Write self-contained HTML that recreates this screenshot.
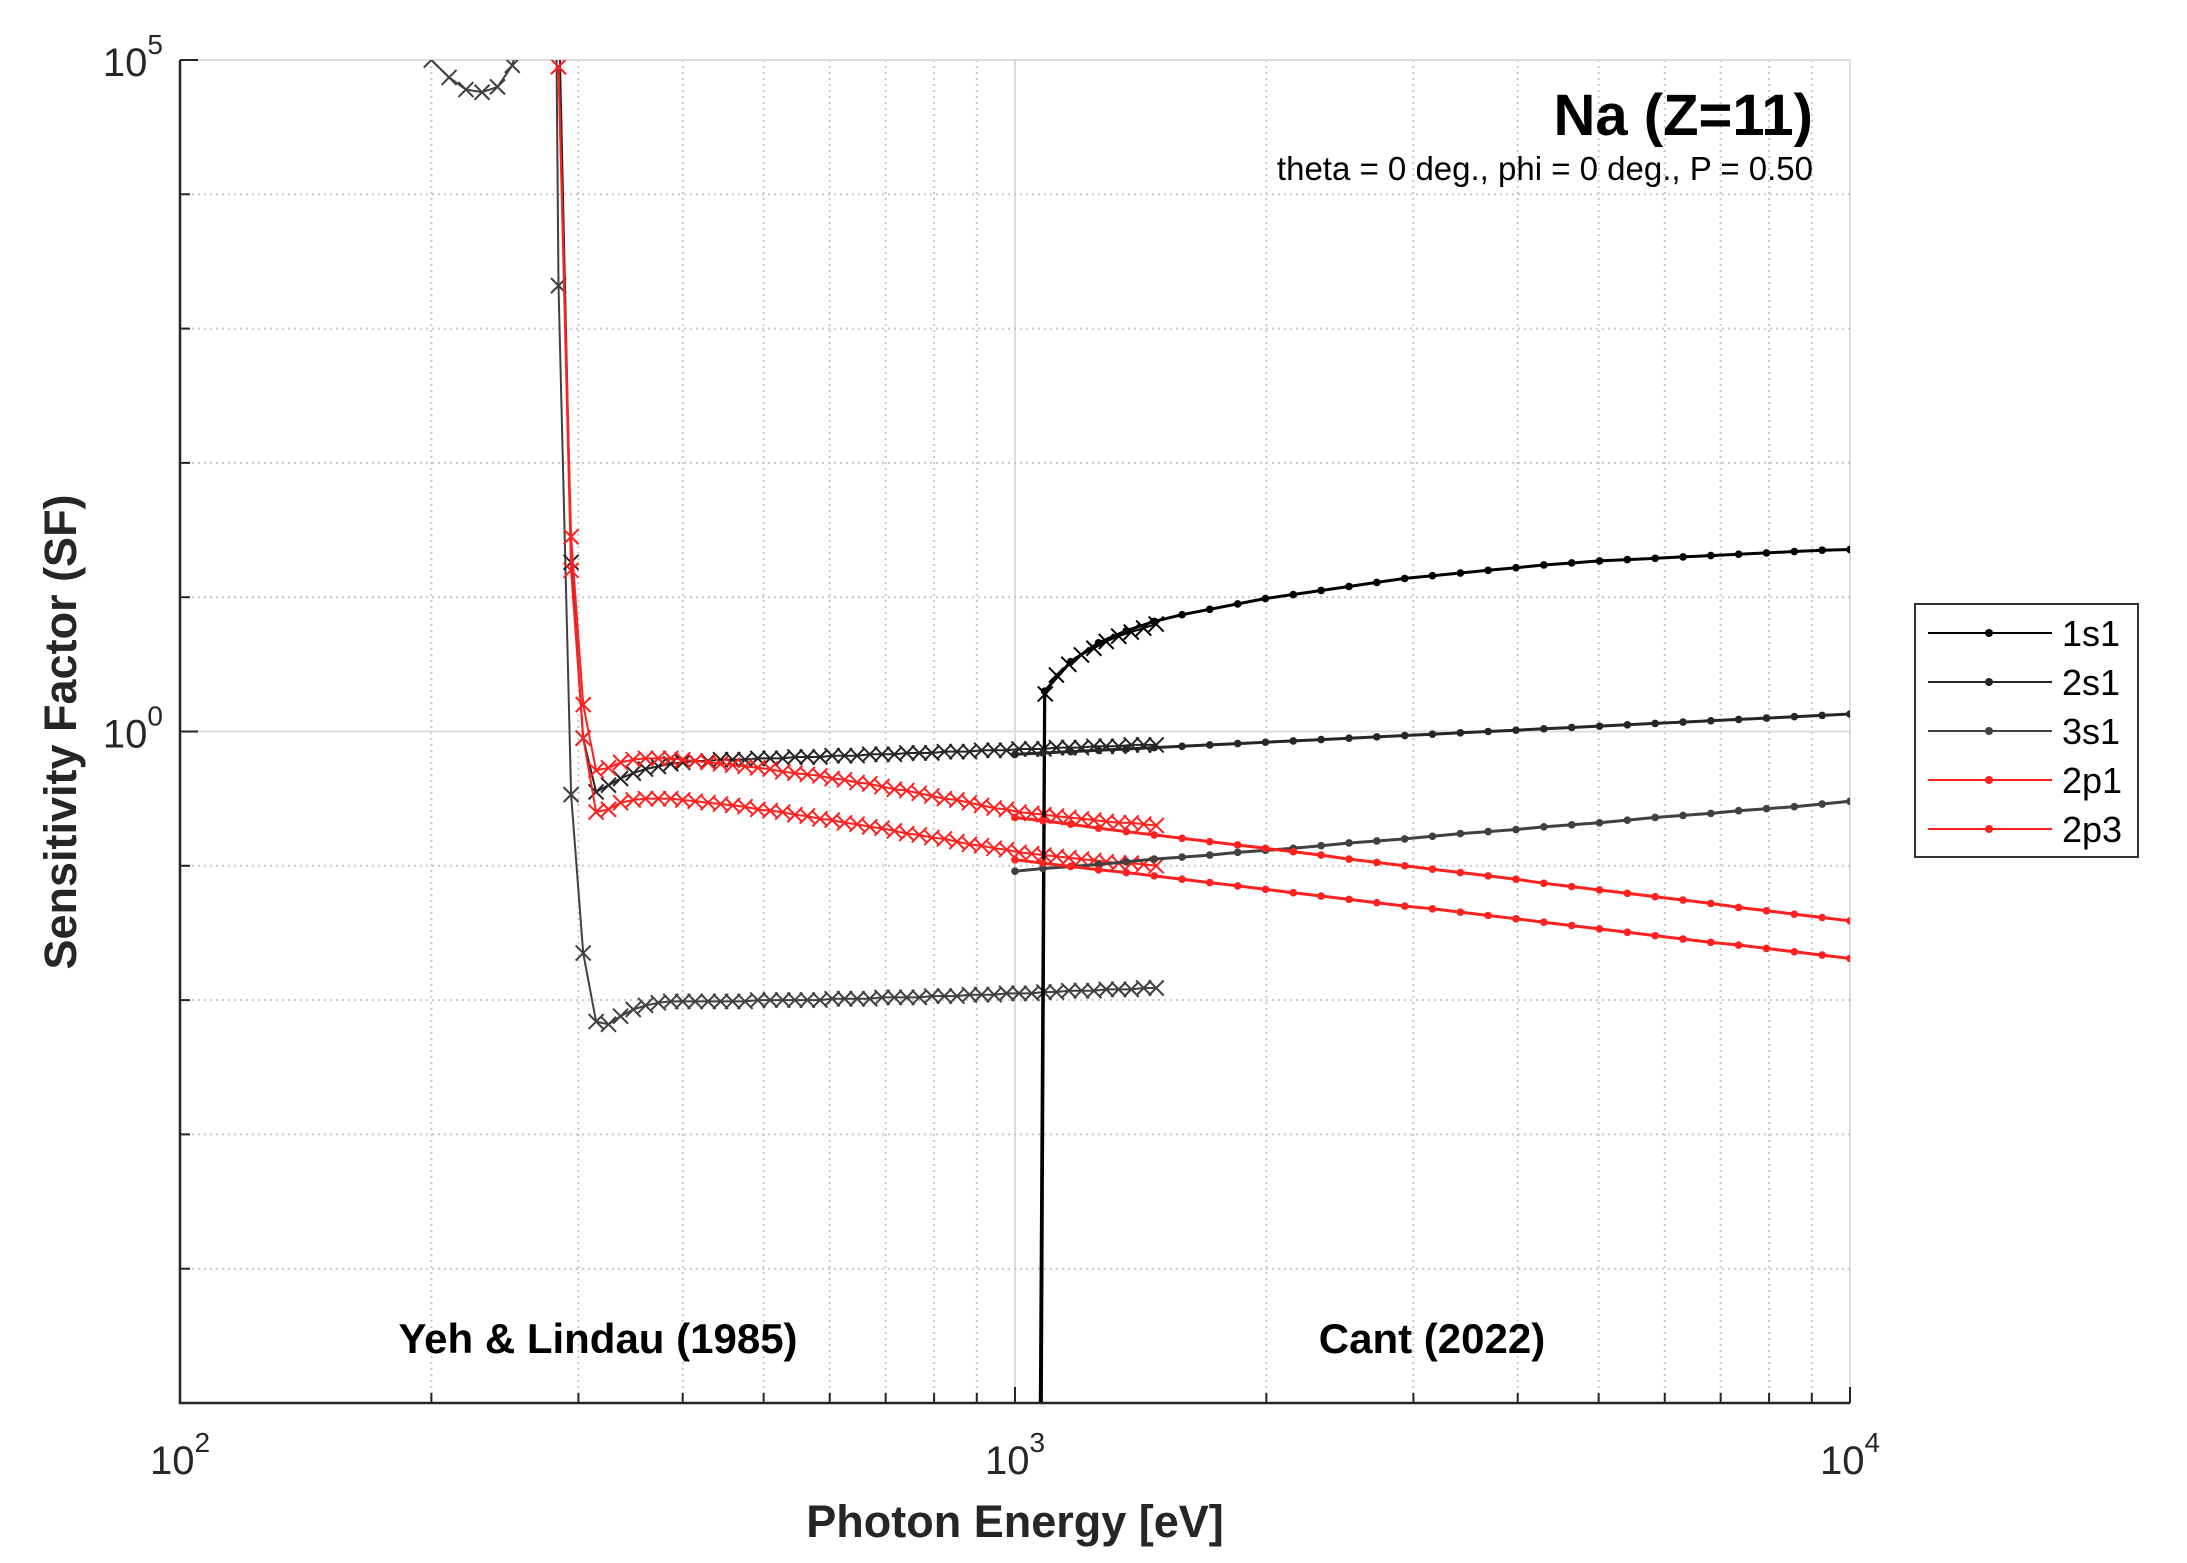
<!DOCTYPE html>
<html><head><meta charset="utf-8"><style>
html,body{margin:0;padding:0;background:#fff;}
svg{display:block;font-family:"Liberation Sans",Arial,sans-serif;}
</style></head><body>
<svg id="chart" xmlns="http://www.w3.org/2000/svg" width="2187" height="1563" viewBox="0 0 2187 1563">
<defs><clipPath id="plotclip"><rect x="180" y="60" width="1670" height="1343"/></clipPath></defs>
<rect x="0" y="0" width="2187" height="1563" fill="#fff"/>
<g id="grid"></g>
<g id="series" clip-path="url(#plotclip)"></g>
<g id="axes"></g>
<text x="1813" y="135" text-anchor="end" font-size="58" font-weight="bold" fill="#000">Na (Z=11)</text>
<text x="1813" y="180" text-anchor="end" font-size="33" fill="#000">theta = 0 deg., phi = 0 deg., P = 0.50</text>
<text x="598" y="1353" text-anchor="middle" font-size="42" font-weight="bold" fill="#000">Yeh &amp; Lindau (1985)</text>
<text x="1432" y="1353" text-anchor="middle" font-size="42" font-weight="bold" fill="#000">Cant (2022)</text>
<text x="1015" y="1537" text-anchor="middle" font-size="45" font-weight="bold" fill="#262626">Photon Energy [eV]</text>
<text transform="translate(76,732) rotate(-90)" text-anchor="middle" font-size="45" font-weight="bold" fill="#262626">Sensitivity Factor (SF)</text>
<g id="legend">
<rect x="1915" y="604" width="223" height="253" fill="#fff" stroke="#333" stroke-width="2"/>
</g>
</svg>
<script>
// ---- data (energies in eV, SF values stored as log10(SF)) ----
const yehGridE = [315,326,337,349,361,374,387,400,414,429,444,459,475,492,509,527,545,564,584,604,625,647,670,693,717,742,768,795,823,852,882,912,944,977,1011,1047,1083,1121,1160,1201,1243,1286,1331,1378,1426,1476];
const yeh3s1E = [200,210,220,230,240,250,265,282,284,294,304];
const yeh3s1Pre = [5.0,4.87,4.78,4.76,4.80,4.96,5.6,5.5,3.32,-0.47,-1.65];
const yeh3s1Log = [-2.16,-2.18,-2.12,-2.07,-2.04,-2.02,-2.01,-2.01,-2.01,-2.01,-2.01,-2.01,-2.01,-2.00,-2.00,-2.00,-2.00,-2.00,-2.00,-1.99,-1.99,-1.99,-1.99,-1.98,-1.98,-1.98,-1.98,-1.97,-1.97,-1.97,-1.96,-1.96,-1.96,-1.95,-1.95,-1.95,-1.94,-1.94,-1.93,-1.93,-1.93,-1.92,-1.92,-1.92,-1.91,-1.91];
const yeh2s1E = [270,284,294,304];
const yeh2s1Pre = [5.8,5.5,1.26,-0.05];
const yeh2s1Log = [-0.45,-0.40,-0.35,-0.31,-0.28,-0.26,-0.24,-0.23,-0.22,-0.22,-0.21,-0.21,-0.21,-0.20,-0.20,-0.20,-0.19,-0.19,-0.19,-0.18,-0.18,-0.18,-0.17,-0.17,-0.17,-0.16,-0.16,-0.16,-0.15,-0.15,-0.15,-0.14,-0.14,-0.14,-0.13,-0.13,-0.13,-0.12,-0.12,-0.12,-0.11,-0.11,-0.11,-0.10,-0.10,-0.10];
const yeh2pE = [284,294,304];
const yeh2p3Pre = [4.95,1.45,0.2];
const yeh2p3Log = [-0.29,-0.27,-0.23,-0.21,-0.20,-0.20,-0.20,-0.21,-0.22,-0.23,-0.24,-0.25,-0.26,-0.27,-0.28,-0.30,-0.31,-0.32,-0.33,-0.35,-0.36,-0.38,-0.39,-0.41,-0.43,-0.44,-0.46,-0.48,-0.50,-0.51,-0.53,-0.55,-0.57,-0.58,-0.60,-0.61,-0.62,-0.63,-0.64,-0.65,-0.66,-0.67,-0.68,-0.68,-0.69,-0.70];
const yeh2p1Pre = [4.95,1.2,-0.05];
const yeh2p1Log = [-0.60,-0.58,-0.53,-0.51,-0.50,-0.50,-0.50,-0.51,-0.52,-0.53,-0.54,-0.55,-0.56,-0.58,-0.59,-0.60,-0.62,-0.63,-0.65,-0.66,-0.68,-0.69,-0.71,-0.72,-0.74,-0.76,-0.77,-0.79,-0.80,-0.82,-0.84,-0.85,-0.87,-0.88,-0.90,-0.91,-0.92,-0.93,-0.94,-0.95,-0.96,-0.97,-0.98,-0.98,-0.99,-1.00];
const yeh1s1E = [1075,1087,1121,1160,1201,1243,1286,1331,1378,1426,1476];
const yeh1s1Log = [-6,0.28,0.42,0.50,0.57,0.62,0.67,0.71,0.74,0.77,0.80];

const cantE = [1000,1080,1166,1259,1359,1468,1585,1711,1848,1995,2154,2326,2512,2712,2929,3162,3415,3687,3981,4299,4642,5012,5412,5843,6310,6813,7356,7943,8577,9261,10000];
const cant1s1E = [1000,1070,1085,1166,1259,1359,1468,1585,1711,1848,1995,2154,2326,2512,2712,2929,3162,3415,3687,3981,4299,4642,5012,5412,5843,6310,6813,7356,7943,8577,9261,10000];
const cant1s1Log = [-6,-6,0.30,0.52,0.66,0.75,0.82,0.87,0.91,0.95,0.99,1.02,1.05,1.08,1.11,1.14,1.16,1.18,1.20,1.22,1.24,1.255,1.27,1.28,1.29,1.30,1.31,1.32,1.33,1.34,1.35,1.355];
const cant2s1Log = [-0.17,-0.16,-0.15,-0.14,-0.13,-0.12,-0.11,-0.10,-0.09,-0.08,-0.07,-0.06,-0.05,-0.04,-0.03,-0.02,-0.01,0.00,0.01,0.02,0.03,0.04,0.05,0.06,0.07,0.08,0.09,0.10,0.11,0.12,0.13];
const cant3s1Log = [-1.04,-1.02,-1.005,-0.99,-0.97,-0.95,-0.935,-0.92,-0.90,-0.885,-0.87,-0.85,-0.83,-0.815,-0.80,-0.78,-0.76,-0.745,-0.73,-0.71,-0.695,-0.68,-0.66,-0.64,-0.625,-0.61,-0.59,-0.575,-0.56,-0.54,-0.52];
const cant2p3Log = [-0.64,-0.665,-0.69,-0.72,-0.745,-0.77,-0.795,-0.82,-0.845,-0.87,-0.895,-0.92,-0.95,-0.975,-1.0,-1.025,-1.05,-1.075,-1.10,-1.13,-1.155,-1.18,-1.205,-1.23,-1.255,-1.28,-1.31,-1.335,-1.36,-1.385,-1.41];
const cant2p1Log = [-0.955,-0.98,-1.005,-1.03,-1.05,-1.075,-1.10,-1.125,-1.15,-1.175,-1.20,-1.225,-1.25,-1.275,-1.30,-1.32,-1.345,-1.37,-1.395,-1.42,-1.445,-1.47,-1.495,-1.52,-1.545,-1.57,-1.59,-1.615,-1.64,-1.665,-1.69];

const legendLabels = ["1s1","2s1","3s1","2p1","2p3"];
const xTickExps = [2,3,4];
const yTickExps = [5,0];

// ---- axes ----
const PL=180, PR=1850, PT=60, PB=1403;
const XMIN=2, XMAX=4, YMIN=-5, YMAX=5;
function xs(E){ return PL + (Math.log10(E)-XMIN)/(XMAX-XMIN)*(PR-PL); }
function ys(lg){ return PB - (lg-YMIN)/(YMAX-YMIN)*(PB-PT); }
const NS="http://www.w3.org/2000/svg";
function mk(tag, attrs, parent){ const e=document.createElementNS(NS,tag); for(const k in attrs) e.setAttribute(k,attrs[k]); parent.appendChild(e); return e; }
const grid=document.getElementById('grid'), axes=document.getElementById('axes'), ser=document.getElementById('series');

for(let d=XMIN; d<XMAX; d++){
  for(let m=1;m<=9;m++){
    const E=m*Math.pow(10,d); const x=xs(E);
    if(m===1 && d===XMIN) continue;
    const g=mk('line',{x1:x,x2:x,y1:PT,y2:PB,stroke:m===1?'#dcdcdc':'#c8c8c8','stroke-width':2,'stroke-dasharray':m===1?'none':'2 4'},grid);
    
    
    const t=mk('line',{x1:x,x2:x,y1:PB,y2:PB-(m===1?16:10),stroke:'#262626','stroke-width':2},axes);
    
    
  }
}
const rx=mk('line',{x1:PR,x2:PR,y1:PT,y2:PB,stroke:'#dcdcdc','stroke-width':2},grid);


const rt=mk('line',{x1:PR,x2:PR,y1:PB,y2:PB-16,stroke:'#262626','stroke-width':2},axes);


for(let d=YMIN; d<=YMAX; d++){
  const y=ys(d); const major=(d%5===0);
  if(d!==YMIN){
    const g=mk('line',{x1:PL,x2:PR,y1:y,y2:y,stroke:major?'#dcdcdc':'#c8c8c8','stroke-width':2,'stroke-dasharray':major?'none':'2 4'},grid);
    
    
  }
  const t=mk('line',{x1:PL,x2:PL+(major?18:10),y1:y,y2:y,stroke:'#262626','stroke-width':2},axes);
  
  
}
const ax=mk('path',{d:`M${PL} ${PT} L${PL} ${PB} L${PR} ${PB}`,fill:'none',stroke:'#262626','stroke-width':2.5},axes);


xTickExps.forEach(e=>{
  const t=mk('text',{x:xs(Math.pow(10,e)),y:1474,'text-anchor':'middle','font-size':40,fill:'#262626'},axes);
  
  
  t.innerHTML='10<tspan dy="-22" font-size="28">'+e+'</tspan>';
});
yTickExps.forEach(e=>{
  const t=mk('text',{x:163,y:ys(e)+16,'text-anchor':'end','font-size':40,fill:'#262626'},axes);
  
  
  t.innerHTML='10<tspan dy="-22" font-size="28">'+e+'</tspan>';
});

function drawLine(E, L, color, w, name){
  const pts=E.map((e,i)=>xs(e).toFixed(1)+','+ys(L[i]).toFixed(1)).join(' ');
  const p=mk('polyline',{points:pts,fill:'none',stroke:color,'stroke-width':w,'stroke-linejoin':'round'},ser);
  
  
}
function drawX(E, L, color, name){
  const g=mk('g',{stroke:color,'stroke-width':2,fill:'none'},ser);
  
  
  E.forEach((e,i)=>{ const x=xs(e), y=ys(L[i]), s=7.5;
    const m=mk('path',{d:`M${x-s} ${y-s}L${x+s} ${y+s}M${x-s} ${y+s}L${x+s} ${y-s}`},g);
    
    
  });
}
function drawDots(E, L, color, name){
  const g=mk('g',{fill:color},ser);
  
  
  E.forEach((e,i)=>{ const c=mk('circle',{cx:xs(e),cy:ys(L[i]),r:3.8},g);
    
    
  });
}
const RED='#ff2020';
function yeh(preE, pre, log, color, name){
  const E=preE.concat(yehGridE), L=pre.concat(log);
  drawLine(E,L,color,2,name+'-line'); drawX(E,L,color,name+'-markers');
}
yeh(yeh3s1E,yeh3s1Pre,yeh3s1Log,'#404040','yeh-3s1');
yeh(yeh2s1E,yeh2s1Pre,yeh2s1Log,'#262626','yeh-2s1');
yeh(yeh2pE,yeh2p1Pre,yeh2p1Log,RED,'yeh-2p1');
yeh(yeh2pE,yeh2p3Pre,yeh2p3Log,RED,'yeh-2p3');
drawLine(yeh1s1E,yeh1s1Log,'#000',2,'yeh-1s1-line'); drawX(yeh1s1E,yeh1s1Log,'#000','yeh-1s1-markers');
function cant(E,L,color,name){ drawLine(E,L,color,3,name+'-line'); drawDots(E,L,color,name+'-dots'); }
cant(cant1s1E,cant1s1Log,'#000','cant-1s1');
cant(cantE,cant2s1Log,'#262626','cant-2s1');
cant(cantE,cant3s1Log,'#404040','cant-3s1');
cant(cantE,cant2p1Log,RED,'cant-2p1');
cant(cantE,cant2p3Log,RED,'cant-2p3');

const lg=document.getElementById('legend');
const legColors=['#000','#262626','#404040',RED,RED];
legendLabels.forEach((lab,i)=>{
  const y=633+i*49;
  const g=mk('g',{},lg);
  
  
  mk('line',{x1:1928,x2:2052,y1:y,y2:y,stroke:legColors[i],'stroke-width':2},g);
  mk('circle',{cx:1989,cy:y,r:4,fill:legColors[i]},g);
  const t=mk('text',{x:2062,y:y+13,'font-size':36,fill:'#000'},g);
  t.textContent=lab;
});
</script>
</body></html>
